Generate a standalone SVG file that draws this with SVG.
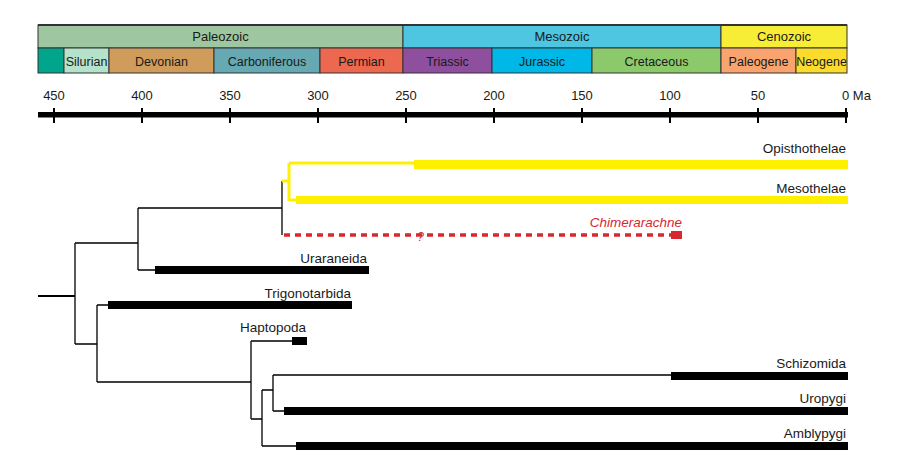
<svg xmlns="http://www.w3.org/2000/svg" width="908" height="467" viewBox="0 0 908 467">
<style>
text{font-family:"Liberation Sans",Arial,sans-serif;fill:#1a1a1a}
.era{font-size:13px;text-anchor:middle}
.per{font-size:12.5px;text-anchor:middle}
.ax{font-size:13px;text-anchor:middle}
.lbl{font-size:13.5px;text-anchor:end}
.box{stroke:#333;stroke-width:1}
.br{stroke:#000;stroke-width:1.3;fill:none}
.yl{stroke:#fff000;stroke-width:3;fill:none}
.bar{fill:#000}
.ybar{fill:#fff000}
</style>
<rect width="908" height="467" fill="#fff"/>
<g id="timescale">
<rect class="box" x="38" y="25" width="365" height="23" fill="#9ec6a0"/>
<rect class="box" x="403" y="25" width="318" height="23" fill="#4ec6e1"/>
<rect class="box" x="721" y="25" width="126" height="23" fill="#f7ec36"/>
<text class="era" x="220.5" y="41">Paleozoic</text>
<text class="era" x="562" y="41">Mesozoic</text>
<text class="era" x="784" y="41">Cenozoic</text>
<rect class="box" x="38" y="48" width="26" height="25" fill="#00a58b"/>
<rect class="box" x="64" y="48" width="45" height="25" fill="#b4e2ca"/>
<rect class="box" x="109" y="48" width="105" height="25" fill="#cf9c5c"/>
<rect class="box" x="214" y="48" width="106" height="25" fill="#66a9b2"/>
<rect class="box" x="320" y="48" width="83" height="25" fill="#ec684e"/>
<rect class="box" x="403" y="48" width="89" height="25" fill="#8e4f9f"/>
<rect class="box" x="492" y="48" width="100" height="25" fill="#00b8e8"/>
<rect class="box" x="592" y="48" width="129" height="25" fill="#8cc96b"/>
<rect class="box" x="721" y="48" width="75" height="25" fill="#f9a36e"/>
<rect class="box" x="796" y="48" width="51" height="25" fill="#fbdb2c"/>
<line x1="38" y1="25" x2="847" y2="25" stroke="#333" stroke-width="2"/>
<text class="per" x="86.5" y="66">Silurian</text>
<text class="per" x="161.5" y="66">Devonian</text>
<text class="per" x="267" y="66">Carboniferous</text>
<text class="per" x="361.5" y="66">Permian</text>
<text class="per" x="447.5" y="66">Triassic</text>
<text class="per" x="542" y="66">Jurassic</text>
<text class="per" x="656.5" y="66">Cretaceous</text>
<text class="per" x="758.5" y="66">Paleogene</text>
<text class="per" x="821.5" y="66">Neogene</text>
</g>
<g id="axis">
<rect x="38" y="112" width="810" height="5.5" fill="#000"/>
<g stroke="#000" stroke-width="2">
<line x1="54" y1="108" x2="54" y2="123"/>
<line x1="142" y1="108" x2="142" y2="123"/>
<line x1="230" y1="108" x2="230" y2="123"/>
<line x1="318" y1="108" x2="318" y2="123"/>
<line x1="406" y1="108" x2="406" y2="123"/>
<line x1="494" y1="108" x2="494" y2="123"/>
<line x1="582" y1="108" x2="582" y2="123"/>
<line x1="670" y1="108" x2="670" y2="123"/>
<line x1="758" y1="108" x2="758" y2="123"/>
<line x1="846" y1="108" x2="846" y2="123"/>
</g>
<text class="ax" x="54" y="100">450</text>
<text class="ax" x="142" y="100">400</text>
<text class="ax" x="230" y="100">350</text>
<text class="ax" x="318" y="100">300</text>
<text class="ax" x="406" y="100">250</text>
<text class="ax" x="494" y="100">200</text>
<text class="ax" x="582" y="100">150</text>
<text class="ax" x="670" y="100">100</text>
<text class="ax" x="758" y="100">50</text>
<text x="842" y="100" font-size="13">0 Ma</text>
</g>
<g id="connectors">
<line x1="38" y1="296" x2="75" y2="296" stroke="#000" stroke-width="2"/>
<path class="br" d="M75,243 V344 M75,243 H138 M75,344 H97"/>
<path class="br" d="M138,208 V270 M138,208 H282 M138,270 H155"/>
<path class="br" d="M282,181 V235"/>
<path class="yl" d="M282,181 H289 M289,163 V201 M289,163 H414 M289,200 H296"/>
<line x1="284" y1="235" x2="671" y2="235" stroke="#d9272e" stroke-width="3.5" stroke-dasharray="6,5"/>
<path class="br" d="M97,305 V382 M97,305 H108 M97,382 H251"/>
<path class="br" d="M251,341 V419 M251,341 H292 M251,419 H262"/>
<path class="br" d="M262,390 V446 M262,390 H273 M262,446 H296"/>
<path class="br" d="M273,375 V411 M273,375 H671 M273,411 H284"/>
</g>
<g id="Opisthothelae">
<rect class="ybar" x="414" y="160" width="434" height="9"/>
<text class="lbl" x="846" y="153">Opisthothelae</text>
</g>
<g id="Mesothelae">
<rect class="ybar" x="296" y="196" width="552" height="8"/>
<text class="lbl" x="846" y="193">Mesothelae</text>
</g>
<g id="Chimerarachne">
<rect x="671" y="231" width="11" height="8" fill="#d9272e"/>
<text x="682" y="227" font-size="13.5" font-style="italic" text-anchor="end" style="fill:#d9272e">Chimerarachne</text>
<text x="420.5" y="241" font-size="12" font-style="italic" text-anchor="middle" style="fill:#d9272e">?</text>
</g>
<g id="Uraraneida">
<rect class="bar" x="155" y="266" width="214" height="8"/>
<text class="lbl" x="367" y="263">Uraraneida</text>
</g>
<g id="Trigonotarbida">
<rect class="bar" x="108" y="301" width="244" height="8"/>
<text class="lbl" x="351" y="298">Trigonotarbida</text>
</g>
<g id="Haptopoda">
<rect class="bar" x="292" y="337" width="15" height="8"/>
<text class="lbl" x="306" y="332">Haptopoda</text>
</g>
<g id="Schizomida">
<rect class="bar" x="671" y="372" width="177" height="8"/>
<text class="lbl" x="846" y="368">Schizomida</text>
</g>
<g id="Uropygi">
<rect class="bar" x="284" y="407" width="564" height="8"/>
<text class="lbl" x="846" y="403">Uropygi</text>
</g>
<g id="Amblypygi">
<rect class="bar" x="296" y="442" width="552" height="8"/>
<text class="lbl" x="846" y="438">Amblypygi</text>
</g>
</svg>
